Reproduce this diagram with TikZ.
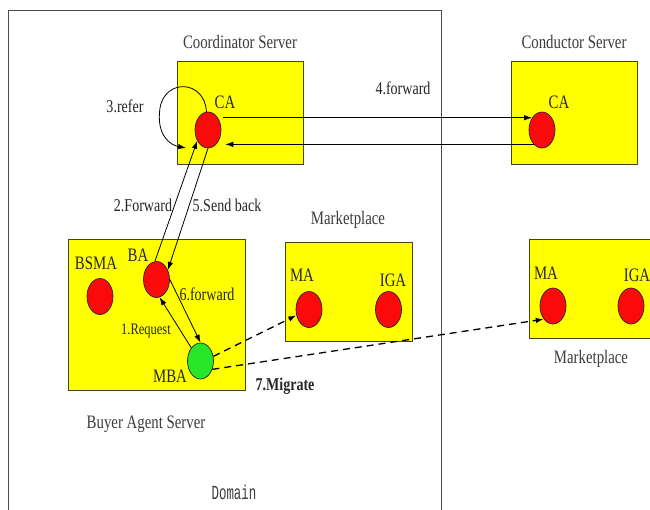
\documentclass[tikz,border=0pt]{standalone}
\usepackage{fontspec}
\setmainfont[FakeStretch=0.78]{Liberation Serif}
\newfontfamily\domfont[FakeStretch=0.62]{Liberation Mono}
\usetikzlibrary{shapes.geometric,arrows.meta,calc}
\definecolor{boxyellow}{RGB}{255,255,0}
\definecolor{boxedge}{RGB}{70,70,20}
\definecolor{agentred}{RGB}{250,10,10}
\definecolor{agentgreen}{RGB}{40,230,40}
\definecolor{labelgray}{RGB}{60,60,60}
\begin{document}
\begin{tikzpicture}[x=1pt,y=-1pt,
  server/.style={draw=boxedge,fill=boxyellow,line width=1pt,inner sep=0pt},
  agent/.style={ellipse,draw=black!85,fill=agentred,minimum width=26pt,
    minimum height=36pt,inner sep=0pt,line width=0.7pt},
  title/.style={font=\fontsize{19}{19}\selectfont,text=labelgray,inner sep=0pt},
  lbl/.style={font=\fontsize{19}{19}\selectfont,text=black!85,inner sep=0pt},
  msg/.style={font=\fontsize{18}{18}\selectfont,text=black!85,inner sep=0pt},
  flow/.style={-{Latex[length=8pt,width=5.5pt]},line width=0.8pt,black},
  move/.style={flow,line width=1.3pt,dash pattern=on 7pt off 5pt}
]
\clip (0,0) rectangle (650,509);
\fill[white] (0,0) rectangle (650,509);

% domain frame, open at the bottom
\draw[black!70,line width=1pt] (8,520) -- (8,10) -- (441,10) -- (441,520);
\node[font=\domfont\fontsize{20}{20}\selectfont,text=labelgray,inner sep=0pt] (domain) at (234,492) {Domain};

% servers
\node[server,minimum width=126pt,minimum height=103pt] (coord) at (240,112.5) {};
\node[server,minimum width=126pt,minimum height=103pt] (cond) at (574,112.5) {};
\node[server,minimum width=177pt,minimum height=151pt] (buyer) at (156.5,314.5) {};
\node[server,minimum width=127pt,minimum height=99pt] (mkt1) at (348.5,291.5) {};
\node[server,minimum width=130pt,minimum height=99pt] (mkt2) at (594,288.5) {};

\node[title] (coordT) at (240,42) {Coordinator Server};
\node[title] (condT) at (574,42) {Conductor Server};
\node[title] (buyerT) at (146,424) {Buyer Agent Server};
\node[title] (mkt1T) at (348,220) {Marketplace};
\node[title] (mkt2T) at (591,359) {Marketplace};

% agents
\node[agent] (CA1) at (208,130) {};
\node[agent] (CA2) at (542,130) {};
\node[agent] (BSMA) at (100,296.5) {};
\node[agent] (BA) at (156.5,279.5) {};
\node[agent,fill=agentgreen] (MBA) at (200.5,361) {};
\node[agent] (MA1) at (309,309.5) {};
\node[agent] (IGA1) at (388.5,309.5) {};
\node[agent] (MA2) at (553,306) {};
\node[agent] (IGA2) at (631,306) {};

\node[lbl] (CA1L) at (225,102) {CA};
\node[lbl] (CA2L) at (559,102) {CA};
\node[lbl] (BSMAL) at (96,263) {BSMA};
\node[lbl] (BAL) at (138,255) {BA};
\node[lbl] (MBAL) at (170,376) {MBA};
\node[lbl] (MA1L) at (302,275) {MA};
\node[lbl] (IGA1L) at (393,280) {IGA};
\node[lbl] (MA2L) at (546,273) {MA};
\node[lbl] (IGA2L) at (637,275) {IGA};

% message flows
\draw[flow] (CA1.95) .. controls (205,80) and (165,78) .. (160,108)
  .. controls (156,135) and (170,145) .. ($(CA1.center)+(-22,18)$);
\node[msg] (referL) at (125,106) {3.refer};

\draw[flow] ($(CA1.51)+(5,0)$) -- (CA2.129);
\draw[flow] (CA2.240) -- ($(CA1.-60)+(9,0)$);
\node[msg] (fwdL) at (403,88) {4.forward};

\draw[flow] (BA.95) -- (CA1.225);
\node[msg] (forwardL) at (143,205) {2.Forward};
\draw[flow] (CA1.south) -- (BA.40);
\node[msg] (sendL) at (227,205) {5.Send back};

\draw[flow] (BA.east) -- (MBA.north);
\node[msg] (sixL) at (207,294) {6.forward};
\draw[flow] (MBA.125) -- (BA.-80);
\node[msg,font=\fontsize{16}{16}\selectfont] (reqL) at (146,331) {1.Request};

% migration
\draw[move] (MBA.20) -- (MA1.205);
\draw[move] (MBA.-35) -- (MA2.235);
\node[msg,font=\bfseries\fontsize{18}{18}\selectfont] (migL) at (285,386) {7.Migrate};
\end{tikzpicture}
\end{document}
